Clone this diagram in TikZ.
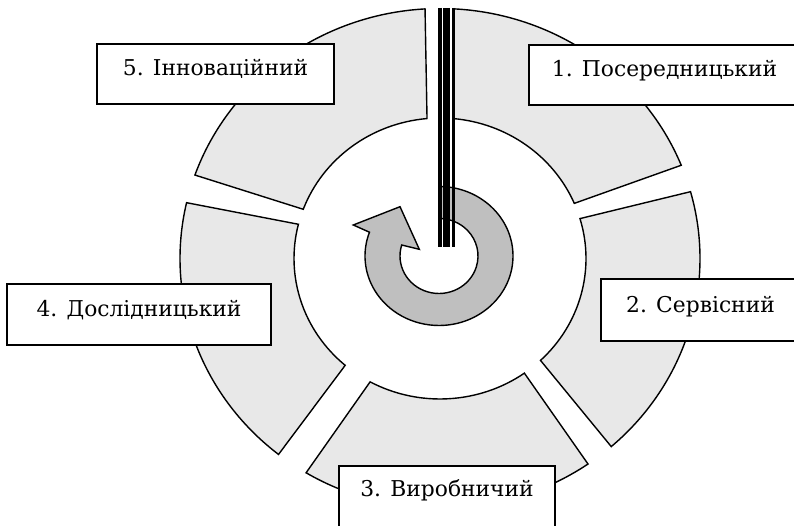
\documentclass[tikz,border=0pt]{standalone}
\usepackage{fontspec}
\setmainfont{DejaVu Serif}
\usetikzlibrary{calc}

\begin{document}
\begin{tikzpicture}[x=1pt,y=1pt,line join=miter]
    % sizes are in pt, one pt for one pixel of the page
    \tikzstyle{ring-seg}=[draw=black,line width=1.4pt,fill=black!9]
    \tikzstyle{cycle-arrow}=[draw=black,line width=1.4pt,fill=black!25]
    \tikzstyle{label-box}=[draw=black,line width=1.8pt,fill=white,inner ysep=0pt,
    text height=32pt,text depth=28pt,anchor=base,font=\fontsize{21.8}{26}\selectfont]

    \useasboundingbox (0,0) rectangle (794,526);
    \clip (0,0) rectangle (794,526);
    \coordinate (c) at (440,267.5);
    \coordinate (a) at (439,270);

    % ring segments
    \draw [ring-seg] ($(c)+(87.1:260pt and 250pt)$) arc[start angle=87.1,end angle=21.9,x radius=260pt,y radius=250pt]
      -- ($(c)+(23.1:146pt and 140.5pt)$) arc[start angle=23.1,end angle=84.9,x radius=146pt,y radius=140.5pt] -- cycle;
    \draw [ring-seg] ($(c)+(15.5:260pt and 250pt)$) arc[start angle=15.5,end angle=-48.8,x radius=260pt,y radius=250pt]
      -- ($(c)+(-46.5:146pt and 140.5pt)$) arc[start angle=-46.5,end angle=16.5,x radius=146pt,y radius=140.5pt] -- cycle;
    \draw [ring-seg] ($(c)+(-55.3:260pt and 250pt)$) arc[start angle=-55.3,end angle=-121,x radius=260pt,y radius=250pt]
      -- ($(c)+(-118.6:146pt and 140.5pt)$) arc[start angle=-118.6,end angle=-54.7,x radius=146pt,y radius=140.5pt] -- cycle;
    \draw [ring-seg] ($(c)+(231.6:260pt and 250pt)$) arc[start angle=231.6,end angle=167.1,x radius=260pt,y radius=250pt]
      -- ($(c)+(165.9:146pt and 140.5pt)$) arc[start angle=165.9,end angle=229.5,x radius=146pt,y radius=140.5pt] -- cycle;
    \draw [ring-seg] ($(c)+(160.5:260pt and 250pt)$) arc[start angle=160.5,end angle=93.3,x radius=260pt,y radius=250pt]
      -- ($(c)+(95.1:146pt and 140.5pt)$) arc[start angle=95.1,end angle=159.5,x radius=146pt,y radius=140.5pt] -- cycle;

    % circular arrow in the middle
    \draw [cycle-arrow] ($(a)+(90:74pt and 69.5pt)$) arc[start angle=90,end angle=-200,x radius=74pt,y radius=69.5pt]
      -- (353.3,301) -- (400,319.3) -- (419.3,276.7) -- ($(a)+(163:39pt and 37.5pt)$)
      arc[start angle=-197,end angle=90,x radius=39pt,y radius=37.5pt] -- cycle;

    % three bars from the top
    \draw [line width=3.4pt] (440,518) -- (440,279);
    \draw [line width=6.7pt] (446.7,518) -- (446.7,279);
    \draw [line width=3.3pt] (453.3,518) -- (453.3,279);

    \node [label-box,minimum width=271pt] (mediat) at (664.5,449) {1. Посередницький};
    \node [label-box,minimum width=199pt,text height=34pt] (serv) at (700.5,213) {2. Сервісний};
    \node [label-box,minimum width=216pt,text height=31pt,text depth=40pt] (prod) at (447,29) {3. Виробничий};
    \node [label-box,minimum width=264pt,text height=33pt] (resear) at (139,209) {4. Дослідницький};
    \node [label-box,minimum width=237pt] (innov) at (215.5,450) {5. Інноваційний};

  \end{tikzpicture}
\end{document}
